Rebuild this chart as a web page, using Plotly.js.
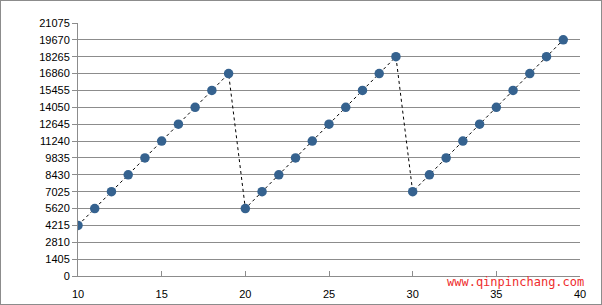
<!DOCTYPE html>
<html><head><meta charset="utf-8">
<script src="https://cdn.plot.ly/plotly-3.0.1.min.js"></script>
<style>html,body{margin:0;padding:0;background:#fff}#c{width:600px;height:303px;border:1px solid #8c8c8c}</style>
</head><body><div id="c"></div>
<script>
const xs = [10,11,12,13,14,15,16,17,18,19,20,21,22,23,24,25,26,27,28,29,30,31,32,33,34,35,36,37,38,39];
const ys = [4215,5620,7025,8430,9835,11240,12645,14050,15455,16860,
            5620,7025,8430,9835,11240,12645,14050,15455,16860,18265,
            7025,8430,9835,11240,12645,14050,15455,16860,18265,19670];
const yTicks = [0,1405,2810,4215,5620,7025,8430,9835,11240,12645,14050,15455,16860,18265,19670,21075];
const xTicks = [10,15,20,25,30,35,40];
const watermark = 'www.qinpinchang.com';

Plotly.newPlot('c', [{
  x: xs, y: ys, type: 'scatter', mode: 'lines+markers',
  line: {color: '#000', width: 1, dash: '3px,3px'},
  marker: {color: '#35628f', size: 9.5, line: {width: 0}},
  hoverinfo: 'skip'
}], {
  width: 600, height: 303,
  margin: {l: 77, r: 21, t: 22, b: 28},
  paper_bgcolor: '#fff', plot_bgcolor: '#fff',
  showlegend: false,
  font: {family: 'Liberation Sans, Arial, sans-serif', size: 11, color: '#000'},
  xaxis: {range: [10, 40], tickvals: xTicks, ticktext: xTicks.map(String),
    showgrid: false, zeroline: false, showline: true, linecolor: '#8c8c8c', linewidth: 1,
    ticks: 'inside', ticklen: 5, tickcolor: '#8c8c8c', tickfont: {size: 11}, ticklabelstandoff: 8},
  yaxis: {range: [0, 21075], tickvals: yTicks, ticktext: yTicks.map(String),
    showgrid: true, gridcolor: '#8c8c8c', gridwidth: 1, zeroline: false,
    showline: true, linecolor: '#8c8c8c', linewidth: 1,
    ticks: 'outside', ticklen: 5, tickcolor: '#8c8c8c', tickfont: {size: 11}},
  annotations: [{text: watermark, xref: 'paper', yref: 'paper', x: 1.012, y: -0.025,
    xanchor: 'right', yanchor: 'middle', showarrow: false,
    font: {family: 'DejaVu Sans Mono, monospace', size: 12, color: '#ee2c2c'}}]
}, {staticPlot: true, displayModeBar: false});
</script></body></html>
